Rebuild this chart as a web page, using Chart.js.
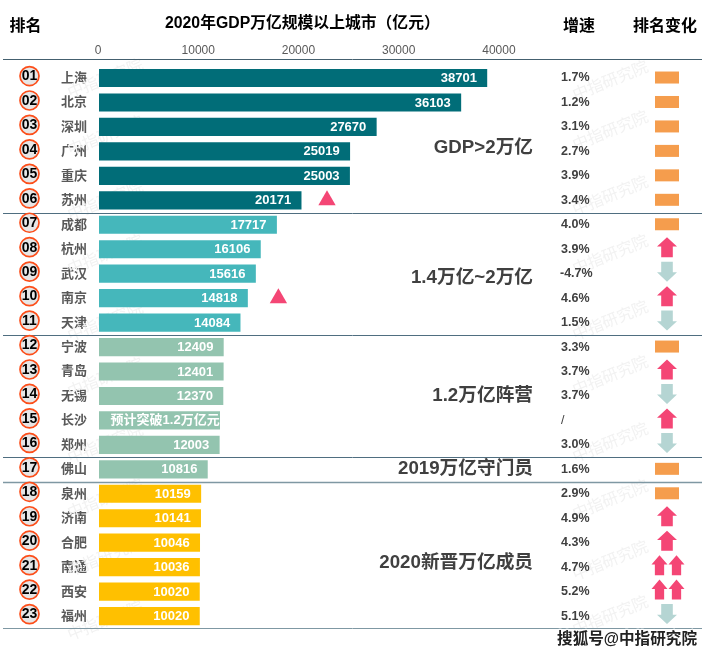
<!DOCTYPE html>
<html lang="zh">
<head>
<meta charset="utf-8">
<title>2020年GDP万亿规模以上城市</title>
<script src="https://cdn.jsdelivr.net/npm/chart.js@4/dist/chart.umd.min.js"></script>
<style>html,body{margin:0;padding:0;background:#fff}canvas{display:block}</style>
</head>
<body>
<canvas id="c" width="711" height="656"></canvas>
<script>
const cities = ['上海','北京','深圳','广州','重庆','苏州','成都','杭州','武汉','南京','天津','宁波','青岛','无锡','长沙','郑州','佛山','泉州','济南','合肥','南通','西安','福州'];
const gdp = [38701,36103,27670,25019,25003,20171,17717,16106,15616,14818,14084,12409,12401,12370,12040,12003,10816,10159,10141,10046,10036,10020,10020];
const valueNotes = {14:'预计突破1.2万亿元'};
const growth = ['1.7%','1.2%','3.1%','2.7%','3.9%','3.4%','4.0%','3.9%','-4.7%','4.6%','1.5%','3.3%','3.7%','3.7%','/','3.0%','1.6%','2.9%','4.9%','4.3%','4.7%','5.2%','5.1%'];
const rankChange = [0,0,0,0,0,0,0,1,-1,1,-1,0,1,-1,1,-1,0,0,1,1,2,2,-1];
const tierSizes = [6,5,5,1,6];
const tierColors = ['#016D78','#45B7BB','#93C4AF','#93C4AF','#FFC000'];
const tierLabels = ['GDP>2万亿','1.4万亿~2万亿','1.2万亿阵营','2019万亿守门员','2020新晋万亿成员'];
const tierLabelRows = [2.82,8.15,12.97,15.95,19.8];
const markers = [{x:22750,y:'苏州'},{x:17900,y:'南京'}];
const xTicks = [0,10000,20000,30000,40000];
const watermarkRowsLeft = [78,135,200,254,321,377,443,498,556,620];
const watermarkRowsRight = [80,130,195,254,320,375,442,499,560,615];

const CJK = '"Noto Sans CJK SC","Liberation Sans",sans-serif';
const LAT = '"Liberation Sans","Noto Sans CJK SC",sans-serif';
const barColors = [];
tierSizes.forEach((n,i)=>{for(let k=0;k<n;k++)barColors.push(tierColors[i]);});
const RED='#F44675', PALE='#B5D5D3', ORANGE='#F59D4D';

function upArrow(ctx,cx,cy,w,h,fill,dir){
  const s=dir||1, hw=w/2, sw=w*0.29, top=cy-s*h/2, neck=top+s*h*0.47, bot=cy+s*h/2;
  ctx.fillStyle=fill;ctx.beginPath();
  ctx.moveTo(cx,top);ctx.lineTo(cx+hw,neck);ctx.lineTo(cx+sw,neck);ctx.lineTo(cx+sw,bot);
  ctx.lineTo(cx-sw,bot);ctx.lineTo(cx-sw,neck);ctx.lineTo(cx-hw,neck);ctx.closePath();ctx.fill();
}
const backdrop={id:'backdrop',beforeDatasetsDraw(chart){
  const ctx=chart.ctx;ctx.save();
  ctx.fillStyle='#F2F2F2';ctx.font='16px '+CJK;ctx.textAlign='center';ctx.textBaseline='middle';
  const put=(x,y)=>{ctx.save();ctx.translate(x,y);ctx.rotate(-22*Math.PI/180);ctx.fillText('中指研究院',0,0);ctx.restore();};
  watermarkRowsLeft.forEach(y=>put(105,y));
  watermarkRowsRight.forEach(y=>put(610,y));
  ctx.restore();
}};
const overlay={id:'overlay',afterDraw(chart){
  const ctx=chart.ctx,ys=chart.scales.y,xs=chart.scales.x;
  const rowY=i=>ys.getPixelForValue(i);
  ctx.save();
  // headers
  ctx.textBaseline='middle';ctx.fillStyle='#000';
  ctx.font='bold 16px '+CJK;ctx.textAlign='center';
  ctx.fillText('排名',25.5,25);
  ctx.fillText('增速',579,25);
  ctx.fillText('排名变化',665,25);
  ctx.font='bold 15.8px '+LAT;ctx.textAlign='left';
  ctx.fillText('2020年GDP万亿规模以上城市（亿元）',165,24);
  // separators
  const line=(y,c,w)=>{ctx.strokeStyle=c;ctx.lineWidth=w;ctx.beginPath();ctx.moveTo(3,y);ctx.lineTo(702,y);ctx.stroke();};
  line(59.5,'#44606F',1);
  let acc=0;
  tierSizes.forEach((n,i)=>{
    acc+=n;
    const y=i===tierSizes.length-1?ys.bottom:(rowY(acc-1)+rowY(acc))/2;
    line(Math.round(y)+.5,i===3||i===4?'#7F98A3':'#4F6E80',i===3?1.5:1);
  });
  // bar values
  ctx.fillStyle='#fff';ctx.textAlign='right';ctx.font='bold 13px '+LAT;
  gdp.forEach((v,i)=>{
    const note=valueNotes[i];
    ctx.fillText(note||String(v),xs.getPixelForValue(v)-(note?0:10),rowY(i)+.5);
  });
  // ranks
  cities.forEach((c,i)=>{
    const y=rowY(i)-2;
    ctx.beginPath();ctx.arc(29.5,y,9.5,0,Math.PI*2);ctx.fillStyle='#E7E6E6';ctx.fill();
    ctx.strokeStyle='#FC4E1A';ctx.lineWidth=1.7;ctx.stroke();
    ctx.fillStyle='#000';ctx.textAlign='center';ctx.font='bold 14px '+LAT;
    ctx.fillText(String(i+1).padStart(2,'0'),29.5,y+.5);
  });
  // growth
  ctx.fillStyle='#404040';ctx.textAlign='left';
  growth.forEach((g,i)=>{
    ctx.font=(g==='/'?'':'bold ')+'12.5px '+LAT;
    ctx.fillText(g,g[0]==='-'?560:561,rowY(i));
  });
  // rank change
  rankChange.forEach((ch,i)=>{
    const y=rowY(i)-2;
    if(ch===0){ctx.fillStyle=ORANGE;ctx.fillRect(655,rowY(i)-6.5,24,12);}
    else if(ch===1)upArrow(ctx,667,y,20,20,RED,1);
    else if(ch===-1)upArrow(ctx,667,y,20,20,PALE,-1);
    else{upArrow(ctx,659.5,y,16,20,RED,1);upArrow(ctx,676.5,y,16,20,RED,1);}
  });
  // tier labels
  ctx.fillStyle='#404040';ctx.textAlign='right';ctx.font='bold 18.7px '+LAT;
  tierLabels.forEach((t,i)=>ctx.fillText(t,533,rowY(tierLabelRows[i])+1));
  // source mark
  ctx.font='bold 15.6px '+LAT;ctx.textAlign='right';
  ctx.lineJoin='round';ctx.lineWidth=2.5;ctx.strokeStyle='#fff';
  ctx.strokeText('搜狐号@中指研究院',697,640);
  ctx.fillStyle='#222';ctx.fillText('搜狐号@中指研究院',697,640);
  ctx.restore();
}};

new Chart(document.getElementById('c'),{
  type:'bar',
  data:{labels:cities,datasets:[
    {type:'line',indexAxis:'y',data:markers,showLine:false,pointStyle:'triangle',pointRadius:10,pointBackgroundColor:RED,pointBorderWidth:0,order:0},
    {type:'bar',data:gdp,backgroundColor:barColors,barThickness:17.5,order:1}
  ]},
  options:{
    indexAxis:'y',responsive:false,animation:false,
    layout:{padding:{left:0,right:161,top:0,bottom:27.7}},
    plugins:{legend:{display:false},tooltip:{enabled:false},title:{display:false}},
    scales:{
      x:{position:'top',min:0,max:45000,
        afterBuildTicks(s){s.ticks=xTicks.map(v=>({value:v}));},
        afterFit(s){s.height=65.8;},
        grid:{display:false,drawTicks:false},border:{display:false},
        ticks:{padding:8,labelOffset:-1,maxRotation:0,autoSkip:false,color:'#595959',font:{family:LAT,size:12},callback:v=>String(v)}
      },
      y:{type:'category',offset:true,
        afterFit(s){s.width=99;},
        grid:{display:false,drawTicks:false},border:{display:false},
        ticks:{padding:12,labelOffset:-1,autoSkip:false,color:'#595959',font:{family:CJK,size:13,weight:'bold'}}
      }
    }
  },
  plugins:[backdrop,overlay]
});
</script>
</body>
</html>
